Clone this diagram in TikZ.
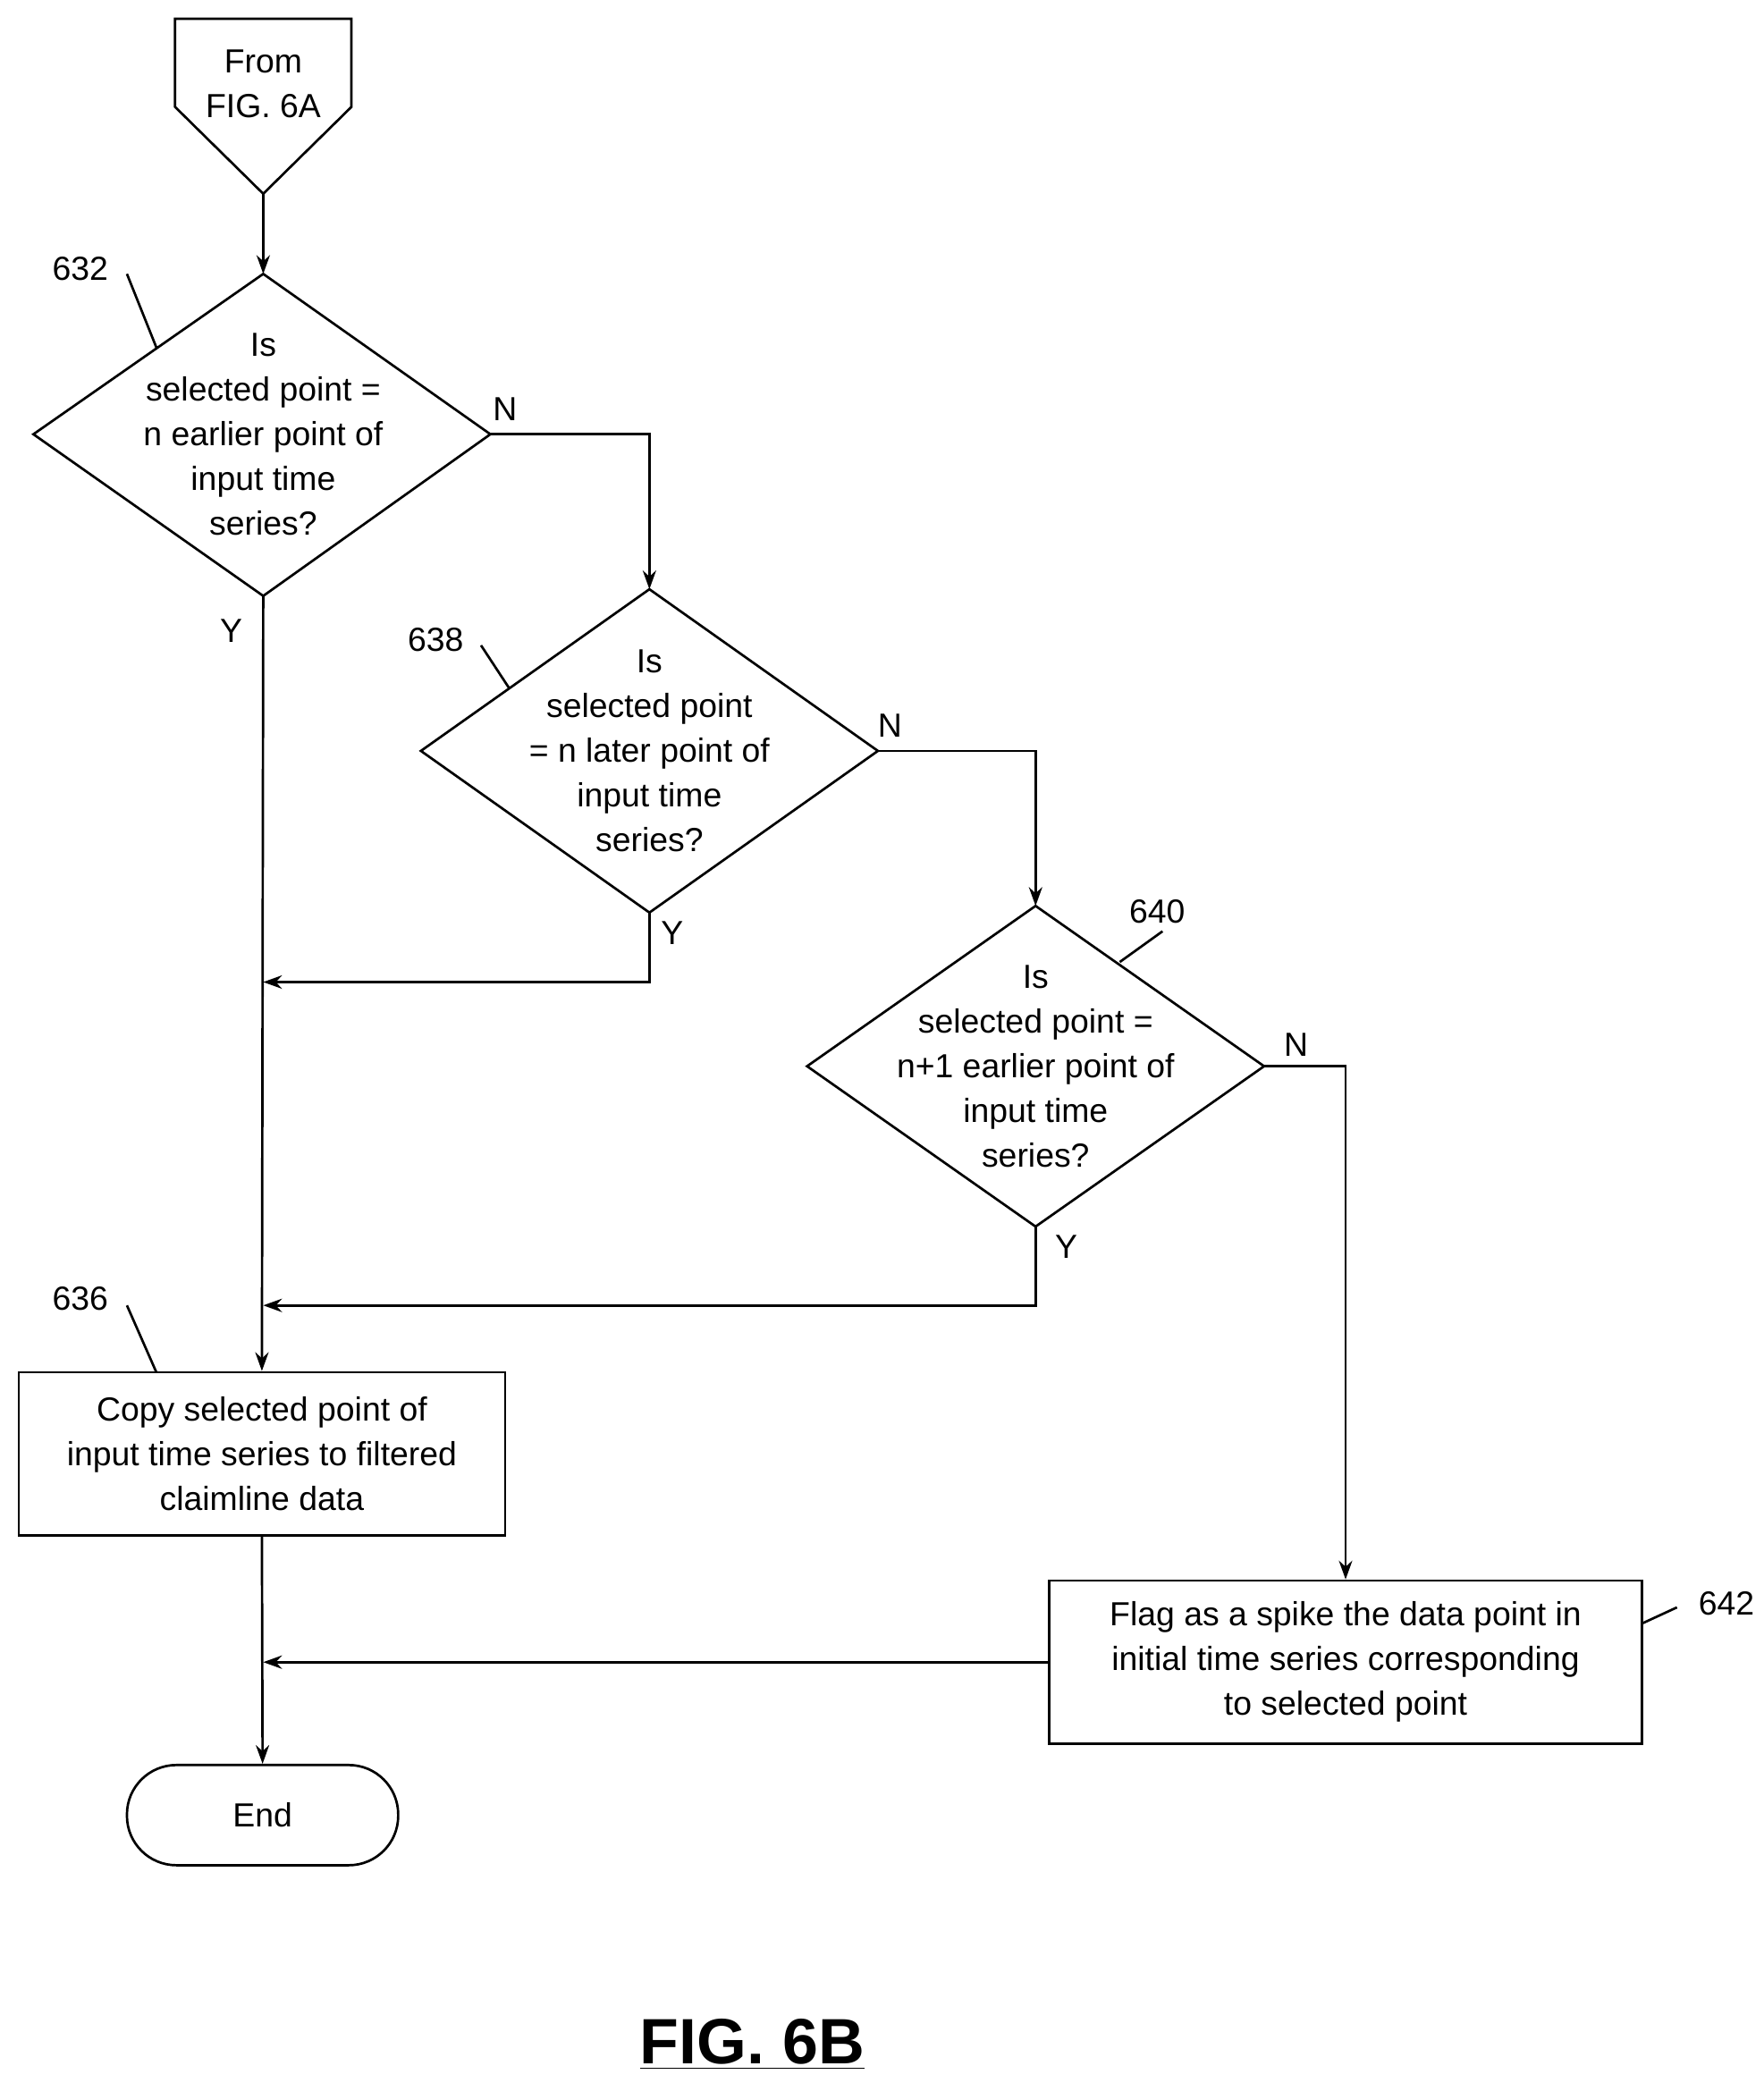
\documentclass[tikz,border=0pt]{standalone}
\usepackage{fontspec}
\setmainfont{Liberation Sans}
\usetikzlibrary{arrows.meta}
\begin{document}
\begin{tikzpicture}[x=0.5pt,y=-0.5pt,
  line width=0.9pt,
  arr/.style={-{Stealth[length=7pt,width=5pt]}},
  txt/.style={font=\fontsize{12.5}{16.7}\selectfont,align=center,inner sep=0},
  lab/.style={font=\fontsize{12.5}{15}\selectfont,inner sep=0}]
\useasboundingbox (0,0) rectangle (1320,1559);
% off-page connector
\draw (131,14) -- (263,14) -- (263,80) -- (197,145) -- (131,80) -- cycle;
\node[txt] (from) at (197,63) {From\\FIG. 6A};
\coordinate (fromB) at (197,145);
% diamonds
\draw (25,325) -- (197,205) -- (367,325) -- (197,446) -- cycle;
\node[txt] (d632) at (197,325) {Is\\selected point =\\n earlier point of\\input time\\series?};
\draw (315,562) -- (486,441) -- (657,562) -- (486,683) -- cycle;
\node[txt] (d638) at (486,562) {Is\\selected point\\= n later point of\\input time\\series?};
\draw (604,798) -- (775,678) -- (946,798) -- (775,918) -- cycle;
\node[txt] (d640) at (775,798) {Is\\selected point =\\n+1 earlier point of\\input time\\series?};
% boxes
\node[draw,txt,minimum width=364*0.5pt,minimum height=122*0.5pt] (b636) at (196,1088) {Copy selected point of\\input time series to filtered\\claimline data};
\node[draw,txt,minimum width=444*0.5pt,minimum height=122*0.5pt] (b642) at (1007,1244) {Flag as a spike the data point in\\initial time series corresponding\\to selected point};
\node[draw,txt,rounded corners=18.5pt,minimum width=203*0.5pt,minimum height=75*0.5pt] (end) at (196.5,1358.5) {End};
% coordinates
\coordinate (t632) at (197,205); \coordinate (r632) at (367,325); \coordinate (bo632) at (197,446);
\coordinate (t638) at (486,441); \coordinate (r638) at (657,562); \coordinate (bo638) at (486,683);
\coordinate (t640) at (775,678); \coordinate (r640) at (946,798); \coordinate (bo640) at (775,918);
% connectors
\draw[arr] (fromB) -- (t632);
\draw[arr] (r632) -| (t638);
\draw[arr] (r638) -| (t640);
\draw[arr] (r640) -| (b642.north);
\draw[arr] (bo632) -- (b636.north);
\draw[arr] (bo638) |- (197,735);
\draw[arr] (bo640) |- (197,977);
\draw[arr] (b642.west) -- (197,1244);
\draw[arr] (b636.south) -- (end.north);
% Y/N labels
\node[lab] (n1) at (378,306) {N};
\node[lab] (y1) at (173,472) {Y};
\node[lab] (n2) at (666,543) {N};
\node[lab] (y2) at (503,698) {Y};
\node[lab] (n3) at (970,782) {N};
\node[lab] (y3) at (798,933) {Y};
% reference numerals
\node[lab] (l632) at (60,201) {632}; \draw (95,205) -- (117,260);
\node[lab] (l638) at (326,479) {638}; \draw (360,483) -- (381,515);
\node[lab] (l640) at (866,682) {640}; \draw (870,697) -- (838,720);
\node[lab] (l636) at (60,972) {636}; \draw (95,977) -- (117,1027);
\node[lab] (l642) at (1292,1200) {642}; \draw (1255,1203) -- (1229,1215);
% title
\node[inner sep=0,font=\fontsize{24}{28}\selectfont\bfseries] (fig) at (563,1530) {\underline{FIG. 6B}};
\end{tikzpicture}
\end{document}
